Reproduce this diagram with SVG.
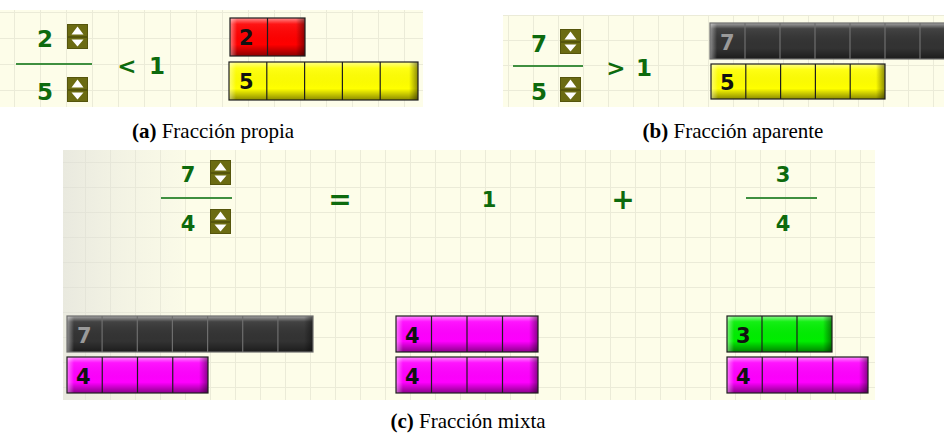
<svg xmlns="http://www.w3.org/2000/svg" width="944" height="434" viewBox="0 0 944 434">
<style>
.frac{font-family:"DejaVu Sans",Verdana,sans-serif;font-weight:bold;fill:#0d6a0d;text-anchor:middle}
.lbl{font-family:"DejaVu Sans",Verdana,sans-serif;font-weight:bold;font-size:21px;fill:#111}
.lblg{font-family:"DejaVu Sans",Verdana,sans-serif;font-weight:bold;font-size:21px;fill:#9a9a9a}
.cap{font-family:"Liberation Serif","Times New Roman",serif;font-size:21px;fill:#000;text-anchor:middle}
.fl{stroke:#3f8f3f;stroke-width:2}
.bd{fill:none;stroke:#1e1e1e;stroke-width:1.2}
.bdk{fill:none;stroke:#6e6e6e;stroke-width:1.2}
.gl{fill:url(#gloss)}
.le{fill:url(#lft)}
.re{fill:url(#rgt)}
</style>
<defs>
<pattern id="pa" width="26" height="26" x="14" y="12" patternUnits="userSpaceOnUse">
<rect width="26" height="26" fill="#fdfde9"/><path d="M0 0.5H26M0.5 0V26" stroke="#ebebd8" stroke-width="1"/>
</pattern>
<pattern id="pb" width="25" height="25" x="8" y="15" patternUnits="userSpaceOnUse">
<rect width="25" height="25" fill="#fdfde9"/><path d="M0 0.5H25M0.5 0V25" stroke="#ebebd8" stroke-width="1"/>
</pattern>
<pattern id="pc" width="25" height="25" x="10" y="12" patternUnits="userSpaceOnUse">
<rect width="25" height="25" fill="#fdfde9"/><path d="M0 0.5H25M0.5 0V25" stroke="#ebebd8" stroke-width="1"/>
</pattern>
<linearGradient id="shade" x1="0" y1="0" x2="1" y2="0">
<stop offset="0" stop-color="#dcdcd8" stop-opacity="0.6"/>
<stop offset="0.95" stop-color="#e8e8de" stop-opacity="0.15"/>
<stop offset="1" stop-color="#e8e8de" stop-opacity="0"/>
</linearGradient>
<linearGradient id="gloss" x1="0" y1="0" x2="0" y2="1">
<stop offset="0" stop-color="#fff" stop-opacity="0.55"/>
<stop offset="0.16" stop-color="#fff" stop-opacity="0.08"/>
<stop offset="0.7" stop-color="#000" stop-opacity="0"/>
<stop offset="1" stop-color="#000" stop-opacity="0.45"/>
</linearGradient>
<linearGradient id="lft" x1="0" y1="0" x2="1" y2="0">
<stop offset="0" stop-color="#fff" stop-opacity="0.45"/>
<stop offset="1" stop-color="#fff" stop-opacity="0"/>
</linearGradient>
<linearGradient id="rgt" x1="0" y1="0" x2="1" y2="0">
<stop offset="0" stop-color="#000" stop-opacity="0"/>
<stop offset="1" stop-color="#000" stop-opacity="0.45"/>
</linearGradient>
<g id="spin">
<rect x="0.5" y="0.5" width="20" height="12" fill="#6b6b12" stroke="#55550c"/>
<rect x="0.5" y="13.5" width="20" height="11" fill="#6b6b12" stroke="#55550c"/>
<polygon points="10.5,2.5 4.5,10.5 16.5,10.5" fill="#fff"/>
<polygon points="10.5,22.5 4.5,15.5 16.5,15.5" fill="#fff"/>
</g>
</defs>
<rect width="944" height="434" fill="#fff"/>

<!-- Panel a -->
<g id="panel-a">
<rect x="0" y="10" width="423" height="97" fill="url(#pa)"/>
<g id="frac-a">
<text class="frac" x="45" y="47" font-size="23">2</text>
<use href="#spin" x="67" y="24"/>
<line class="fl" x1="16" y1="64" x2="92" y2="64"/>
<text class="frac" x="45" y="100" font-size="23">5</text>
<use href="#spin" x="67" y="77"/>
</g>
<g id="cmp-a">
<text class="frac" x="127" y="74" font-size="23">&lt;</text>
<text class="frac" x="157" y="74" font-size="23">1</text>
</g>
<g id="bar-a-red">
<rect x="230" y="18" width="75" height="38" fill="#ff0000"/>
<rect class="gl" x="230" y="18" width="75" height="38"/>
<rect class="le" x="230" y="18" width="7" height="38"/>
<rect class="re" x="296" y="18" width="9" height="38"/>
<rect class="bd" x="230" y="18" width="75" height="38"/>
<path class="bd" d="M267.5 18V56"/>
<text class="lbl" x="239" y="45">2</text>
</g>
<g id="bar-a-yellow">
<rect x="229" y="62" width="189" height="38" fill="#ffff00"/>
<rect class="gl" x="229" y="62" width="189" height="38"/>
<rect class="le" x="229" y="62" width="7" height="38"/>
<rect class="re" x="409" y="62" width="9" height="38"/>
<rect class="bd" x="229" y="62" width="189" height="38"/>
<path class="bd" d="M266.8 62V100M304.6 62V100M342.4 62V100M380.2 62V100"/>
<text class="lbl" x="239" y="89">5</text>
</g>
</g>

<!-- Panel b -->
<g id="panel-b">
<rect x="503" y="15" width="441" height="92" fill="url(#pb)"/>
<g id="frac-b">
<text class="frac" x="539" y="52" font-size="23">7</text>
<use href="#spin" x="560" y="29"/>
<line class="fl" x1="513" y1="66" x2="583" y2="66"/>
<text class="frac" x="539" y="100" font-size="23">5</text>
<use href="#spin" x="560" y="77"/>
</g>
<g id="cmp-b">
<text class="frac" x="616" y="76" font-size="23">&gt;</text>
<text class="frac" x="644" y="76" font-size="23">1</text>
</g>
<g id="bar-b-black">
<rect x="710" y="23" width="245" height="36" fill="#333333"/>
<rect class="gl" x="710" y="23" width="245" height="36"/>
<rect class="le" x="710" y="23" width="7" height="36"/>
<rect class="bdk" x="710" y="23" width="245" height="36"/>
<path class="bdk" d="M745 23V59M780 23V59M815 23V59M850 23V59M885 23V59M920 23V59"/>
<text class="lblg" x="720" y="50">7</text>
</g>
<g id="bar-b-yellow">
<rect x="711" y="64" width="174" height="35" fill="#ffff00"/>
<rect class="gl" x="711" y="64" width="174" height="35"/>
<rect class="le" x="711" y="64" width="7" height="35"/>
<rect class="re" x="876" y="64" width="9" height="35"/>
<rect class="bd" x="711" y="64" width="174" height="35"/>
<path class="bd" d="M745.8 64V99M780.6 64V99M815.4 64V99M850.2 64V99"/>
<text class="lbl" x="720" y="90">5</text>
</g>
</g>

<!-- Panel c -->
<g id="panel-c">
<rect x="63" y="150" width="812" height="250" fill="url(#pc)"/>
<rect x="63" y="150" width="123" height="250" fill="url(#shade)"/>
<g id="frac-c">
<text class="frac" x="188" y="182" font-size="21">7</text>
<use href="#spin" x="210" y="160"/>
<line class="fl" x1="161" y1="198" x2="232" y2="198"/>
<text class="frac" x="188" y="231" font-size="21">4</text>
<use href="#spin" x="210" y="209"/>
</g>
<text id="eq" class="frac" x="340" y="209" font-size="28">=</text>
<text id="one" class="frac" x="489" y="207" font-size="21">1</text>
<text id="plus" class="frac" x="623" y="209" font-size="28">+</text>
<g id="frac-c2">
<text class="frac" x="783" y="182" font-size="21">3</text>
<line class="fl" x1="746" y1="198" x2="817" y2="198"/>
<text class="frac" x="783" y="231" font-size="21">4</text>
</g>
<g id="bar-c-black">
<rect x="67" y="316" width="246" height="36" fill="#333333"/>
<rect class="gl" x="67" y="316" width="246" height="36"/>
<rect class="le" x="67" y="316" width="7" height="36"/>
<rect class="re" x="304" y="316" width="9" height="36"/>
<rect class="bdk" x="67" y="316" width="246" height="36"/>
<path class="bdk" d="M102.1 316V352M137.3 316V352M172.4 316V352M207.6 316V352M242.7 316V352M277.9 316V352"/>
<text class="lblg" x="77" y="343">7</text>
</g>
<g id="bar-c-pink1">
<rect x="67" y="357" width="141" height="36" fill="#ff00ff"/>
<rect class="gl" x="67" y="357" width="141" height="36"/>
<rect class="le" x="67" y="357" width="7" height="36"/>
<rect class="re" x="199" y="357" width="9" height="36"/>
<rect class="bd" x="67" y="357" width="141" height="36"/>
<path class="bd" d="M102.25 357V393M137.5 357V393M172.75 357V393"/>
<text class="lbl" x="76" y="384">4</text>
</g>
<g id="bar-c-pink2">
<rect x="396" y="316" width="142" height="36" fill="#ff00ff"/>
<rect class="gl" x="396" y="316" width="142" height="36"/>
<rect class="le" x="396" y="316" width="7" height="36"/>
<rect class="re" x="529" y="316" width="9" height="36"/>
<rect class="bd" x="396" y="316" width="142" height="36"/>
<path class="bd" d="M431.5 316V352M467 316V352M502.5 316V352"/>
<text class="lbl" x="405" y="343">4</text>
</g>
<g id="bar-c-pink3">
<rect x="396" y="357" width="142" height="36" fill="#ff00ff"/>
<rect class="gl" x="396" y="357" width="142" height="36"/>
<rect class="le" x="396" y="357" width="7" height="36"/>
<rect class="re" x="529" y="357" width="9" height="36"/>
<rect class="bd" x="396" y="357" width="142" height="36"/>
<path class="bd" d="M431.5 357V393M467 357V393M502.5 357V393"/>
<text class="lbl" x="405" y="384">4</text>
</g>
<g id="bar-c-green">
<rect x="727" y="316" width="105" height="36" fill="#00ee00"/>
<rect class="gl" x="727" y="316" width="105" height="36"/>
<rect class="le" x="727" y="316" width="7" height="36"/>
<rect class="re" x="823" y="316" width="9" height="36"/>
<rect class="bd" x="727" y="316" width="105" height="36"/>
<path class="bd" d="M762 316V352M797 316V352"/>
<text class="lbl" x="736" y="343">3</text>
</g>
<g id="bar-c-pink4">
<rect x="727" y="357" width="141" height="36" fill="#ff00ff"/>
<rect class="gl" x="727" y="357" width="141" height="36"/>
<rect class="le" x="727" y="357" width="7" height="36"/>
<rect class="re" x="859" y="357" width="9" height="36"/>
<rect class="bd" x="727" y="357" width="141" height="36"/>
<path class="bd" d="M762.25 357V393M797.5 357V393M832.75 357V393"/>
<text class="lbl" x="736" y="384">4</text>
</g>
</g>

<g id="captions">
<text class="cap" x="213" y="138"><tspan font-weight="bold">(a)</tspan> Fracción propia</text>
<text class="cap" x="733" y="138"><tspan font-weight="bold">(b)</tspan> Fracción aparente</text>
<text class="cap" x="468" y="428"><tspan font-weight="bold">(c)</tspan> Fracción mixta</text>
</g>
<g id="connectors"/>
</svg>
